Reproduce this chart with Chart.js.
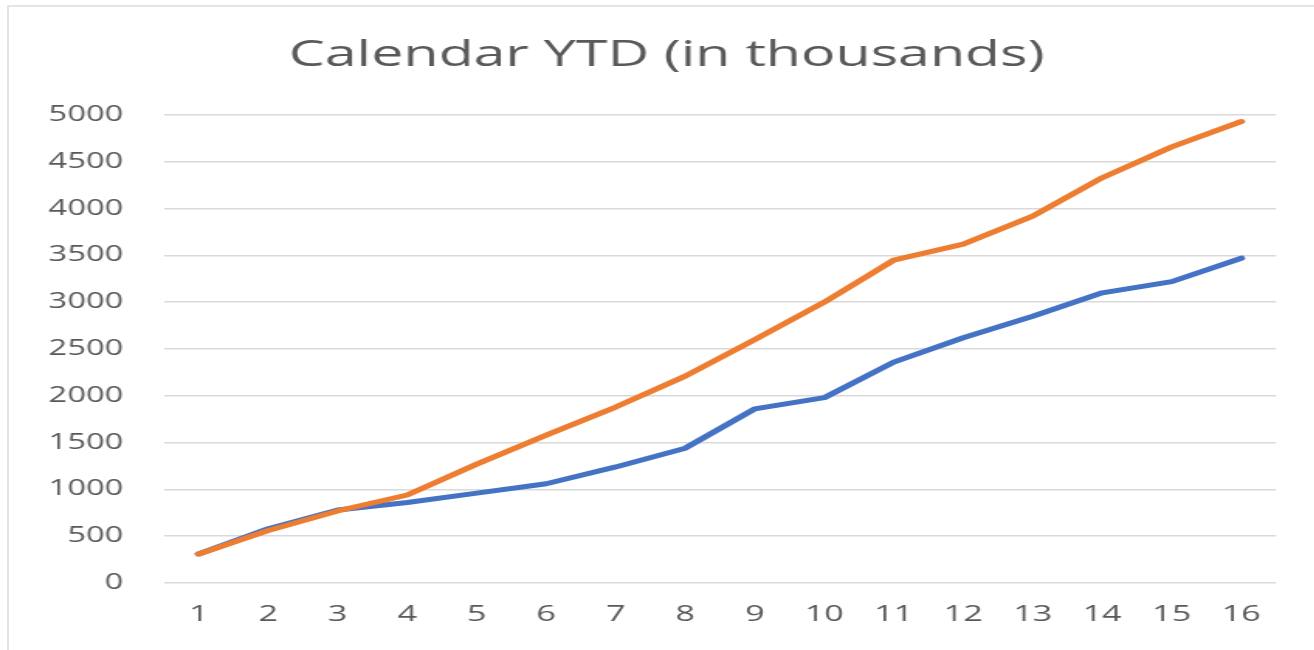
<!DOCTYPE html>
<html>
<head>
<meta charset="utf-8">
<script src="https://cdn.jsdelivr.net/npm/chart.js@4.4.1/dist/chart.umd.min.js"></script>
<style>
  html, body { margin: 0; padding: 0; background: #fff; overflow: hidden; }
  .frame {
    position: absolute; left: 7px; top: 5px; width: 1330px; height: 670px;
    border-top: 2px solid #e4e4e4; border-left: 2px solid #e4e4e4;
  }
  /* the reference picture is stretched sideways, so the canvas is too */
  #chart { position: absolute; left: 0; top: 0; transform-origin: 0 0; transform: scaleX(1.55); }
</style>
</head>
<body>
<div class="frame"></div>
<canvas id="chart" width="860" height="650"></canvas>
<script>
const categories = ['1','2','3','4','5','6','7','8','9','10','11','12','13','14','15','16'];
const orangeValues = [310, 560, 770, 940, 1270, 1580, 1880, 2210, 2600, 3000, 3450, 3620, 3920, 4330, 4660, 4930];
const blueValues = [310, 580, 780, 860, 960, 1060, 1240, 1440, 1860, 1980, 2360, 2620, 2850, 3100, 3220, 3470];
const yMin = 0, yMax = 5000, yStep = 500;

const textGray = '#595959';
const fontName = '"Open Sans", "DejaVu Sans", sans-serif';

let ctx = document.getElementById('chart').getContext('2d');

let ytdChart = new Chart(ctx, {
    type: 'line',
    data: {
        labels: categories,
        datasets: [{
            label: 'Series 2',
            data: orangeValues,
            borderColor: '#ED7D31',
            backgroundColor: '#ED7D31',
            borderWidth: 5,
            pointRadius: 0,
            tension: 0,
            borderJoinStyle: 'round',
            borderCapStyle: 'round',
            fill: false
        }, {
            label: 'Series 1',
            data: blueValues,
            borderColor: '#4472C4',
            backgroundColor: '#4472C4',
            borderWidth: 5,
            pointRadius: 0,
            tension: 0,
            borderJoinStyle: 'round',
            borderCapStyle: 'round',
            fill: false
        }]
    },
    options: {
        responsive: false,
        animation: false,
        devicePixelRatio: 1,
        layout: { padding: 0 },
        plugins: {
            legend: { display: false },
            tooltip: { enabled: false },
            title: {
                display: true,
                text: 'Calendar YTD (in thousands)',
                color: textGray,
                font: { family: fontName, size: 37, weight: 'normal' },
                padding: { top: 32.8, bottom: 37.8 }
            }
        },
        scales: {
            x: {
                offset: true,
                grid: { display: false, drawTicks: false },
                border: { display: false },
                ticks: {
                    color: textGray,
                    font: { family: fontName, size: 22 },
                    padding: 19,
                    maxRotation: 0,
                    autoSkip: false
                },
                afterFit: (scale) => { scale.height = 67; }
            },
            y: {
                min: yMin,
                max: yMax,
                grid: { color: '#d9d9d9', lineWidth: 1.5, drawTicks: false },
                border: { display: false },
                ticks: {
                    stepSize: yStep,
                    color: textGray,
                    font: { family: fontName, size: 21 },
                    padding: 26.4,
                    callback: (value) => String(value)
                },
                afterFit: (scale) => { scale.width = 105.8; }
            },
            // empty right-hand spacer so the title sits where it does in the picture
            spacer: {
                position: 'right',
                min: yMin,
                max: yMax,
                grid: { display: false, drawTicks: false },
                border: { display: false },
                ticks: { display: false },
                afterFit: (scale) => { scale.width = 36.8; }
            }
        }
    }
});
</script>
</body>
</html>
